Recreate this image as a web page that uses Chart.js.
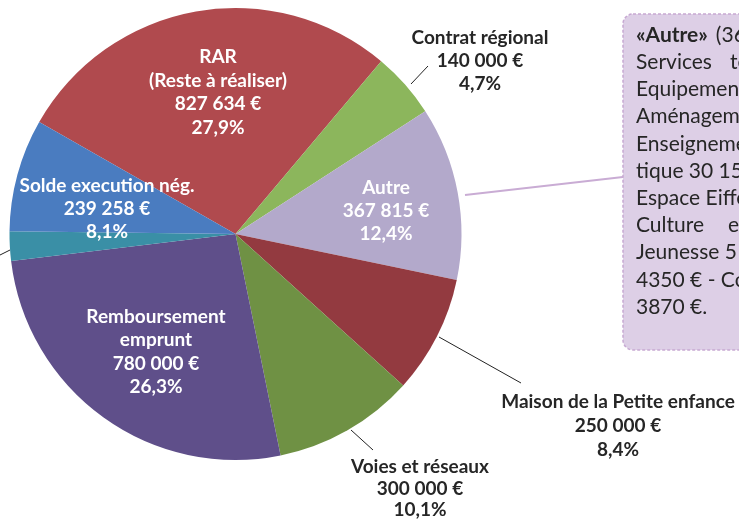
<!DOCTYPE html>
<html>
<head>
<meta charset="utf-8">
<script src="https://cdn.jsdelivr.net/npm/chart.js@4"></script>
<style>
  html, body { margin: 0; padding: 0; background: #fff; }
  #wrap { width: 739px; height: 520px; position: relative; }
</style>
</head>
<body>
<div id="wrap"><canvas id="pie" width="739" height="520"></canvas></div>
<script>
// data
const labels = ['RAR (Reste à réaliser)', 'Contrat régional', 'Autre', 'Maison de la Petite enfance',
  'Voies et réseaux', 'Remboursement emprunt', 'Divers', 'Solde execution nég.'];
const values = [827634, 140000, 367815, 250000, 300000, 780000, 62000, 239258];
const percents = ['27,9%', '4,7%', '12,4%', '8,4%', '10,1%', '26,3%', '2,1%', '8,1%'];
const amounts = ['827 634 €', '140 000 €', '367 815 €', '250 000 €', '300 000 €', '780 000 €', '', '239 258 €'];
const colors = ['#b04a4e', '#8cb65c', '#b3a9cb', '#933a40', '#6f9144', '#5f4f8a', '#3a8fa6', '#4a7cc0'];

// box lines: [first part, second part pushed right by justification]
const autreLines = [
  ['«Autre»', '(367 815 €) :'],
  ['Services', 'techniques'],
  ['Equipement', ''],
  ['Aménagement', ''],
  ['Enseignement - Informa-', ''],
  ['tique 30 150 €', ''],
  ['Espace Eiffel', ''],
  ['Culture', 'et'],
  ['Jeunesse 5 200 €', ''],
  ['4350 € - Communication', ''],
  ['3870 €.', '']
];
const secondX = [0, 730, 0, 0, 0, 0, 0, 728, 0, 0, 0];

const FONT = 'Lato, "Open Sans", sans-serif';

// draws slice texts, leader lines and the side box
const annotations = {
  id: 'annotations',
  afterDatasetsDraw(chart) {
    const ctx = chart.ctx;
    ctx.save();
    ctx.textAlign = 'center';
    ctx.textBaseline = 'middle';

    function block(lines, x, y, step, color, size) {
      ctx.fillStyle = color;
      ctx.font = 'bold ' + size + 'px ' + FONT;
      lines.forEach((t, i) => ctx.fillText(t, x, y + i * step));
    }

    // inside labels
    block(['RAR', '(Reste à réaliser)', amounts[0], percents[0]], 218, 57, 23.5, '#fff', 19);
    block(['Autre', amounts[2], percents[2]], 386, 188, 23, '#fff', 19);
    block(['Remboursement', 'emprunt', amounts[5], percents[5]], 156, 317, 23.3, '#fff', 19);
    block(['Solde execution nég.', amounts[7], percents[7]], 107, 186, 23, '#fff', 19);

    // outside labels
    block(['Contrat régional', amounts[1], percents[1]], 480, 38, 23, '#262626', 19);
    block(['Maison de la Petite enfance', amounts[3], percents[3]], 618, 402, 24, '#262626', 19);
    block(['Voies et réseaux', amounts[4], percents[4]], 420, 467, 21.5, '#262626', 19);

    // leader lines
    ctx.strokeStyle = '#222';
    ctx.lineWidth = 1;
    [[411, 84, 428, 66], [439, 337, 521, 383], [351, 430, 373, 450], [0, 255, 10, 250]].forEach(l => {
      ctx.beginPath();
      ctx.moveTo(l[0], l[1]);
      ctx.lineTo(l[2], l[3]);
      ctx.stroke();
    });

    // connector to the box
    ctx.strokeStyle = '#c9acd4';
    ctx.lineWidth = 2;
    ctx.beginPath();
    ctx.moveTo(465, 195);
    ctx.lineTo(623, 177);
    ctx.stroke();

    // box
    ctx.fillStyle = '#ddcfe6';
    ctx.strokeStyle = '#c7a9d2';
    ctx.lineWidth = 1.5;
    ctx.setLineDash([3, 2]);
    ctx.beginPath();
    ctx.roundRect(623, 14, 140, 336, 10);
    ctx.fill();
    ctx.stroke();
    ctx.setLineDash([]);

    ctx.textAlign = 'left';
    ctx.fillStyle = '#262626';
    autreLines.forEach((parts, i) => {
      const y = 35 + i * 27.2;
      ctx.font = (i === 0 ? 'bold ' : '') + '21px ' + FONT;
      ctx.fillText(parts[0], 636, y);
      let x2 = secondX[i];
      if (i === 0) x2 = 636 + ctx.measureText(parts[0]).width + 8;
      if (parts[1]) {
        ctx.font = '21px ' + FONT;
        ctx.fillText(parts[1], x2, y);
      }
    });
    ctx.restore();
  }
};

new Chart(document.getElementById('pie'), {
  type: 'pie',
  data: {
    labels: labels,
    datasets: [{
      data: values,
      backgroundColor: colors,
      borderWidth: 0
    }]
  },
  options: {
    responsive: false,
    animation: false,
    rotation: -60.3,
    layout: { padding: { left: 9, top: 8, right: 277, bottom: 60 } },
    plugins: {
      legend: { display: false },
      tooltip: { enabled: false }
    }
  },
  plugins: [annotations]
});
</script>
</body>
</html>
